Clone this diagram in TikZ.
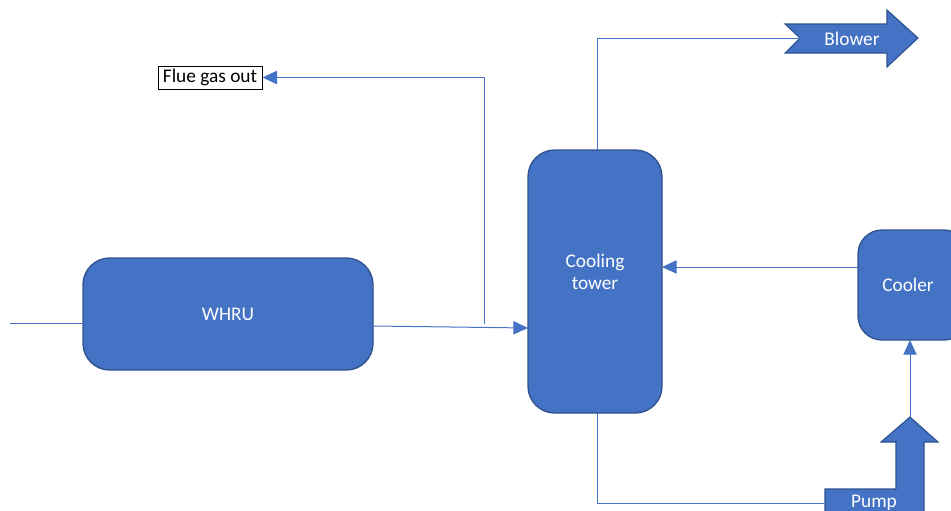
\documentclass[tikz,border=0pt]{standalone}
\usepackage{fontspec}
\setmainfont{Carlito}
\usetikzlibrary{arrows.meta}
\definecolor{unitfill}{HTML}{4472C4}
\definecolor{unitedge}{HTML}{2F528F}
\definecolor{pipe}{HTML}{4472C4}
\tikzset{
  unit/.style={draw=unitedge, line width=1pt, fill=unitfill, text=white,
    rounded corners=20, font=\fontsize{14.5}{16.5}\selectfont, align=center, inner sep=0pt},
  flow/.style={draw=pipe, line width=0.75pt, -{Triangle[length=11, width=10]}},
  pipeline/.style={draw=pipe, line width=0.75pt},
  blockarrow/.style={draw=unitedge, line width=0.8pt, fill=unitfill, line join=miter},
  tag/.style={text=white, font=\fontsize{14.5}{17}\selectfont, inner sep=0pt}
}
\begin{document}
\begin{tikzpicture}[x=0.75pt, y=-0.75pt]
\useasboundingbox (0,0) rectangle (951,511);

% process units
\node[unit, minimum width=290*0.75pt, minimum height=112*0.75pt] (whru) at (228,314) {WHRU};
\node[unit, minimum width=134*0.75pt, minimum height=263*0.75pt] (tower) at (595,281.5) {};
\node[text=white, font=\fontsize{14.5}{16.5}\selectfont, align=center, inner sep=0pt] (towerlabel) at (595,272) {Cooling\\tower};
\node[unit, rounded corners=18, minimum width=110*0.75pt, minimum height=110*0.75pt] (cooler) at (913,285) {};
\node[tag] (coolerlabel) at (908,285) {Cooler};
\node[draw=black, line width=0.6pt, fill=white, font=\fontsize{14.5}{17}\selectfont,
  minimum width=104*0.75pt, minimum height=23*0.75pt, inner sep=0pt] (flue) at (210,77.5) {Flue gas out};

% blower block arrow (notched tail)
\draw[blockarrow] (785,24) -- (887,24) -- (887,10) -- (918,38) -- (887,67) -- (887,53) -- (785,53) -- (800,38) -- cycle;
\coordinate (blowtail) at (800,38);
\node[tag] (blower) at (852,39) {Blower};

% pump bent-up block arrow
\draw[blockarrow] (825,489) -- (896,489) -- (896,442) -- (881,442) -- (910,417) -- (938,442) -- (924,442) -- (924,520) -- (825,520) -- cycle;
\coordinate (pumptip) at (910,417);
\coordinate (pumpin) at (825,503);
\node[tag] (pump) at (874,503) {Pump};

% connector end points
\coordinate (feed) at (10,323);
\coordinate (whruout) at (373,326);
\coordinate (towerin) at (528,328);
\coordinate (tee) at (484,324);
\coordinate (coolerout) at (858,267);
\coordinate (towerret) at (662,267);
\coordinate (towertop) at (597,150);
\coordinate (towerbot) at (597,413);
\coordinate (coolerin) at (910,340);

% piping
\draw[pipeline] (feed) -- (feed -| whru.west);
\draw[flow] (whruout) -- (towerin);
\draw[flow] (tee) |- (flue.east);
\draw[flow] (coolerout) -- (towerret);
\draw[pipeline] (towertop) |- (blowtail);
\draw[pipeline] (towerbot) |- (pumpin);
\draw[flow] (pumptip) -- (coolerin);
\end{tikzpicture}
\end{document}
